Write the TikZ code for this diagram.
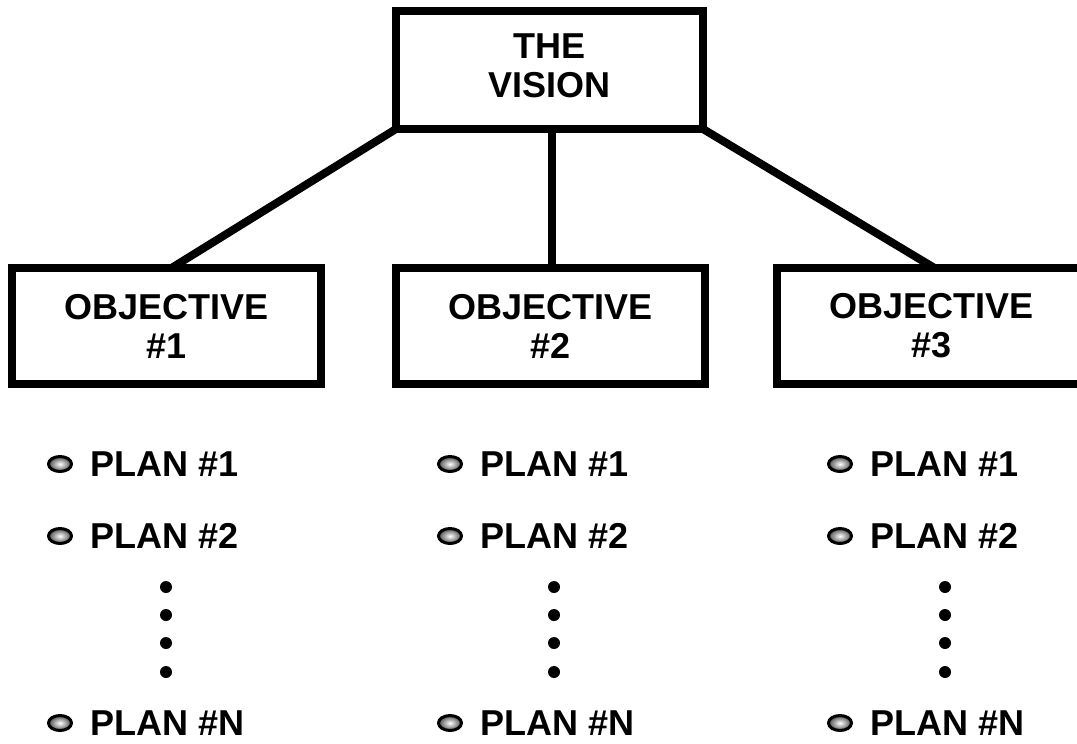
\documentclass[tikz,border=0pt]{standalone}
\usepackage{fontspec}
\setmainfont{Liberation Sans}
\usetikzlibrary{positioning,shapes.geometric}

\begin{document}
\begin{tikzpicture}[x=1pt,y=-1pt,
    box/.style={draw,line width=8pt,minimum width=309pt,minimum height=116pt,outer sep=0pt,
      align=center,font=\bfseries\fontsize{36}{39}\selectfont},
    conn/.style={line width=8pt,line cap=round},
    bullet/.style={ellipse,draw,line width=3pt,minimum width=23pt,minimum height=15pt,
      inner sep=0pt,outer sep=0pt,inner color=white,outer color=black!70},
    plan/.style={inner sep=0pt,font=\bfseries\fontsize{36}{39}\selectfont},
    dot/.style={circle,fill,inner sep=0pt,minimum size=12pt}]
  \clip (0,0) rectangle (1077,744);
  % Vision and objectives
  \node[box,minimum width=307pt,minimum height=118pt] (vision) at (549.5,70)
    {\raisebox{4pt}{\begin{tabular}{@{}c@{}}THE\\VISION\end{tabular}}};
  \node[box] (obj1) at (166.5,326) {OBJECTIVE\\\#1};
  \node[box] (obj2) at (550.5,326) {OBJECTIVE\\\#2};
  \node[box] (obj3) at (931.5,326) {OBJECTIVE\\\#3};
  \draw[conn] (vision.south west) -- ([xshift=5pt]obj1.north);
  \draw[conn] ([xshift=2pt]vision.south) -- ([xshift=1pt]obj2.north);
  \draw[conn] (vision.south east) -- ([xshift=3pt]obj3.north);
  % Plans under each objective
  \foreach \i/\bx/\dx in {1/60/166,2/450/554,3/840/945} {
    \node[bullet] (b\i-1) at (\bx,464) {};
    \node[plan,right=19pt of b\i-1] (p\i-1) {PLAN \#1};
    \node[bullet] (b\i-2) at (\bx,536) {};
    \node[plan,right=19pt of b\i-2] (p\i-2) {PLAN \#2};
    \node[bullet] (b\i-n) at (\bx,723) {};
    \node[plan,right=19pt of b\i-n] (p\i-n) {PLAN \#N};
    \foreach \y [count=\k] in {587,615,643,672}
      \node[dot] (d\i-\k) at (\dx,\y) {};
  }
\end{tikzpicture}
\end{document}
